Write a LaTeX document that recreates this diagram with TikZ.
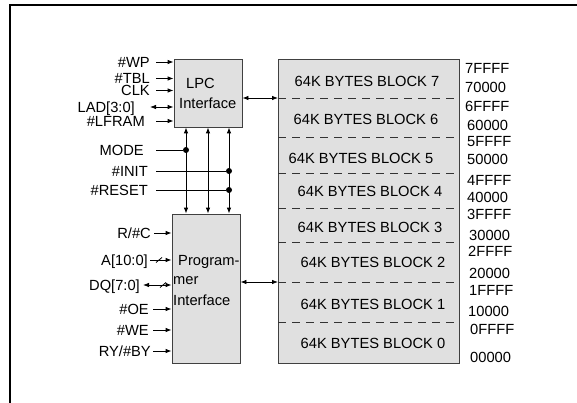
\documentclass[tikz,border=0pt]{standalone}
\usepackage{fontspec}
\setmainfont{Liberation Sans}
\usetikzlibrary{arrows.meta}
\begin{document}
\begin{tikzpicture}[x=1pt,y=-1pt,
  font=\fontsize{14.7}{17}\selectfont,
  box/.style={draw=black!75,fill=black!12,line width=0.8pt,inner sep=0pt},
  lbl/.style={inner sep=0pt,text height=10.5pt,text depth=0pt},
  sig/.style={line width=0.8pt,-{Latex[length=6pt,width=4.5pt]}},
  bsig/.style={line width=0.8pt,{Latex[length=6pt,width=4.5pt]}-{Latex[length=6pt,width=4.5pt]}},
  wire/.style={line width=0.8pt},
  dotnode/.style={circle,fill=black,inner sep=0pt,minimum size=6pt},
  divider/.style={line width=0.8pt,draw=black!80,dash pattern=on 8pt off 6pt},
]
\useasboundingbox (0,0) rectangle (577,403);
\draw[line width=2.4pt] (577,5) -- (10,5) -- (10,403);

% boxes
\node[box,minimum width=68pt,minimum height=68pt] (lpc) at (208,93) {};
\node[box,minimum width=68pt,minimum height=149pt] (prog) at (206,288.5) {};
\node[box,minimum width=181pt,minimum height=304pt] (mem) at (368.5,211) {};

% box texts
\node[lbl,anchor=west] (lpct1) at (186,83) {LPC};
\node[lbl,anchor=west] (lpct2) at (179,103) {Interface};
\node[lbl,anchor=west] (pt1) at (178,260) {Program-};
\node[lbl,anchor=west] (pt2) at (173,279) {mer};
\node[lbl,anchor=west] (pt3) at (173,300) {Interface};

% memory dividers
\foreach \yy [count=\i] in {98,137,173,208,242,282,322}{
  \coordinate (d\i) at (278,\yy);
  \draw[divider] (d\i) -- (mem.east |- d\i);
}

% block labels
\node[lbl] (b7) at (367,81) {64K BYTES BLOCK 7};
\node[lbl] (b6) at (366,119) {64K BYTES BLOCK 6};
\node[lbl] (b5) at (361,158) {64K BYTES BLOCK 5};
\node[lbl] (b4) at (370,191) {64K BYTES BLOCK 4};
\node[lbl] (b3) at (370,227) {64K BYTES BLOCK 3};
\node[lbl] (b2) at (373,262) {64K BYTES BLOCK 2};
\node[lbl] (b1) at (373,304) {64K BYTES BLOCK 1};
\node[lbl] (b0) at (373,343) {64K BYTES BLOCK 0};

% address labels
\node[lbl,anchor=west] (a1) at (465,68) {7FFFF};
\node[lbl,anchor=west] (a2) at (465,87) {70000};
\node[lbl,anchor=west] (a3) at (465,106) {6FFFF};
\node[lbl,anchor=west] (a4) at (467,125) {60000};
\node[lbl,anchor=west] (a5) at (467,141) {5FFFF};
\node[lbl,anchor=west] (a6) at (467,159) {50000};
\node[lbl,anchor=west] (a7) at (467,180) {4FFFF};
\node[lbl,anchor=west] (a8) at (467,197) {40000};
\node[lbl,anchor=west] (a9) at (467,214) {3FFFF};
\node[lbl,anchor=west] (a10) at (469,235) {30000};
\node[lbl,anchor=west] (a11) at (468,251) {2FFFF};
\node[lbl,anchor=west] (a12) at (469,273) {20000};
\node[lbl,anchor=west] (a13) at (469,290) {1FFFF};
\node[lbl,anchor=west] (a14) at (468,311) {10000};
\node[lbl,anchor=west] (a15) at (470,329) {0FFFF};
\node[lbl,anchor=west] (a16) at (470,357) {00000};

% LPC inputs
\node[lbl,anchor=east] (wp) at (150,62) {\#WP};
\node[lbl,anchor=east] (tbl) at (150,78.5) {\#TBL};
\node[lbl,anchor=east] (clk) at (150,90.5) {CLK};
\node[lbl,anchor=east] (lad) at (135,107) {LAD[3:0]};
\node[lbl,anchor=east] (lfram) at (145,121) {\#LFRAM};
\draw[sig] ([xshift=6pt]wp.east) -- (wp.east -| lpc.west);
\draw[sig] ([xshift=6pt]tbl.east) -- (tbl.east -| lpc.west);
\draw[sig] ([xshift=6pt]clk.east) -- (clk.east -| lpc.west);
\draw[bsig] ([xshift=15pt]lad.east) -- (lad.east -| lpc.west);
\draw[sig] ([xshift=11pt]lfram.east) -- (lfram.east -| lpc.west);

% control signals
\node[lbl,anchor=east] (mode) at (144,150) {MODE};
\node[lbl,anchor=east] (init) at (148,171) {\#INIT};
\node[lbl,anchor=east] (reset) at (148,190) {\#RESET};
\node[dotnode] (mdot) at (186,150) {};
\node[dotnode] (idot) at (229,171) {};
\node[dotnode] (rdot) at (229,190) {};
\coordinate (mid) at (208,170);
\draw[wire] ([xshift=12pt]mode.east) -- (mdot);
\draw[wire] ([xshift=8pt]init.east) -- (idot);
\draw[wire] ([xshift=8pt]reset.east) -- (rdot);
\draw[bsig] (lpc.south -| mdot) -- (prog.north -| mdot);
\draw[bsig] (lpc.south -| mid) -- (prog.north -| mid);
\draw[bsig] (lpc.south -| idot) -- (prog.north -| idot);

% programmer inputs
\node[lbl,anchor=east] (rc) at (151,233) {R/\#C};
\node[lbl,anchor=east] (addr) at (148,260) {A[10:0]};
\node[lbl,anchor=east] (dq) at (140,285) {DQ[7:0]};
\node[lbl,anchor=east] (oe) at (149,309) {\#OE};
\node[lbl,anchor=east] (we) at (149,330) {\#WE};
\node[lbl,anchor=east] (ry) at (151,351) {RY/\#BY};
\draw[sig] ([xshift=3pt]rc.east) -- (rc.east -| prog.west);
\draw[sig] ([xshift=2pt]addr.east) -- (addr.east -| prog.west);
\draw[wire] ([xshift=8pt,yshift=-2.5pt]addr.east) -- ([xshift=14pt,yshift=2.5pt]addr.east);
\draw[bsig] ([xshift=3pt]dq.east) -- (dq.east -| prog.west);
\draw[wire] ([xshift=20pt,yshift=-2.5pt]dq.east) -- ([xshift=26pt,yshift=2.5pt]dq.east);
\draw[sig] ([xshift=4pt]oe.east) -- (oe.east -| prog.west);
\draw[sig] ([xshift=4pt]we.east) -- (we.east -| prog.west);
\draw[sig] ([xshift=2pt]ry.east) -- (ry.east -| prog.west);

% interface to memory
\draw[bsig] (lpc.east |- d1) -- (d1);
\draw[bsig] (prog.east |- d6) -- (d6);
\end{tikzpicture}
\end{document}
